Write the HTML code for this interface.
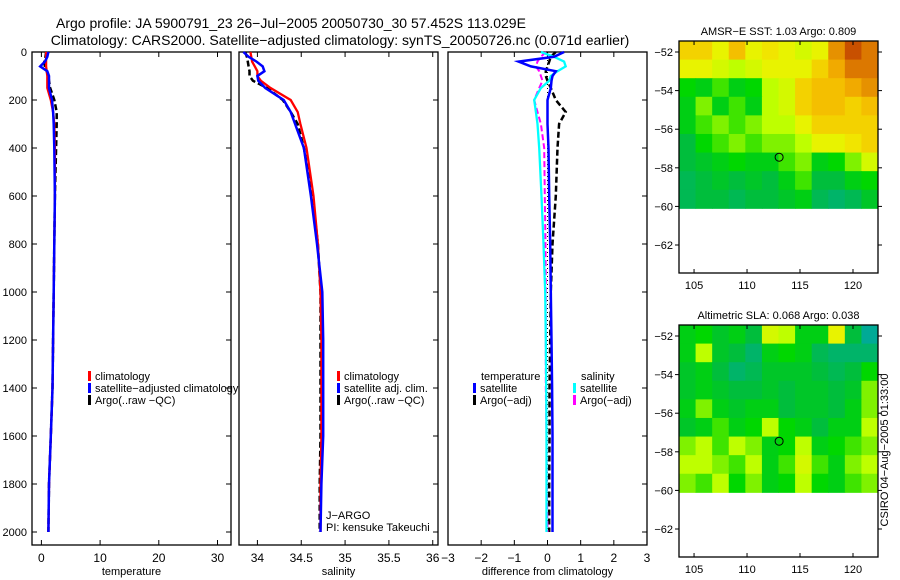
<!DOCTYPE html>
<html><head><meta charset="utf-8">
<style>
body{margin:0;background:#fff;}
svg{display:block;font-family:"Liberation Sans",sans-serif;}
</style></head>
<body>
<svg id="fig" width="900" height="580" viewBox="0 0 900 580" xmlns="http://www.w3.org/2000/svg">
<rect width="900" height="580" fill="#fff"/>
<text x="56" y="28" font-size="14" text-anchor="start">Argo profile: JA 5900791_23 26−Jul−2005 20050730_30 57.452S 113.029E</text>
<text x="340" y="45" font-size="14" text-anchor="middle">Climatology: CARS2000. Satellite−adjusted climatology: synTS_20050726.nc (0.071d earlier)</text>
<g id="plots"></g>
<text transform="translate(888,450) rotate(-90)" font-size="11" text-anchor="middle">CSIRO 04−Aug−2005 01:33:00</text>
</svg>
<script>
// ---- data ----
const depths = [0,20,40,60,80,100,120,150,200,250,300,400,600,800,1000,1200,1400,1600,1800,2000];
const tempClim = [0.8,0.8,0.8,0.8,0.9,1.0,1.0,1.0,1.6,2.0,2.2,2.3,2.3,2.2,2.1,2.0,1.9,1.6,1.3,1.2];
const tempSat  = [1.2,1.0,0.6,-0.2,1.0,1.3,1.3,1.3,1.8,2.0,2.1,2.2,2.3,2.2,2.1,2.0,1.9,1.6,1.3,1.2];
const tempArgo = [0.8,0.7,0.5,0.6,0.9,1.2,1.3,1.5,2.2,2.6,2.6,2.5,2.3,2.2,2.1,2.0,1.9,1.6,1.3,1.2];
const salClim = [33.92,33.93,33.94,33.97,34.0,34.0,34.04,34.15,34.38,34.46,34.49,34.56,34.64,34.69,34.72,34.73,34.73,34.73,34.72,34.72];
const salSat  = [33.84,33.9,33.99,34.06,34.08,34.0,34.01,34.09,34.3,34.38,34.43,34.53,34.61,34.68,34.74,34.75,34.75,34.75,34.73,34.72];
const salArgo = [33.86,33.88,33.89,33.9,33.91,33.91,33.95,34.11,34.29,34.38,34.46,34.53,34.63,34.69,34.72,34.72,34.72,34.72,34.71,34.71];
const dTempSat  = [0.5,0.2,-0.87,-0.5,0.25,0.15,0.12,0.1,0.0,0.0,0.0,0.03,0.05,0.08,0.1,0.12,0.14,0.15,0.15,0.15];
const dTempArgo = [0.25,0.1,0.05,0.0,-0.05,-0.05,0.0,0.1,0.25,0.55,0.35,0.3,0.25,0.15,0.1,0.08,0.06,0.06,0.05,0.05];
const dSalSat   = [-0.2,0.2,0.5,0.55,0.3,0.1,0.05,-0.2,-0.4,-0.35,-0.3,-0.25,-0.18,-0.12,-0.07,-0.05,-0.04,-0.03,-0.03,-0.03];
const dSalArgo  = [-0.05,-0.2,-0.3,-0.35,-0.25,-0.2,-0.15,-0.25,-0.4,-0.3,-0.2,-0.1,-0.08,-0.06,-0.05,-0.05,-0.05,-0.03,-0.02,0.0];
const depthTicks = [0,200,400,600,800,1000,1200,1400,1600,1800,2000];
const tempTicks = [0,10,20,30];
const salTicks = [34,34.5,35,35.5,36];
const diffTicks = [-3,-2,-1,0,1,2,3];
const lonTicks = [105,110,115,120];
const latTicks = [-52,-54,-56,-58,-60,-62];
const sstGrid = [
[.7,.7,.6,.75,.6,.65,.6,.55,.6,.85,.95,.9],
[.6,.6,.55,.5,.55,.6,.6,.6,.7,.8,.9,.9],
[.35,.3,.4,.3,.35,.5,.55,.7,.75,.75,.8,.85],
[.3,.45,.3,.4,.3,.5,.55,.7,.75,.75,.7,.75],
[.3,.4,.45,.4,.45,.5,.5,.6,.7,.7,.7,.7],
[.2,.35,.4,.45,.4,.45,.45,.5,.6,.6,.65,.7],
[.2,.25,.3,.35,.3,.3,.4,.45,.3,.35,.45,.55],
[.15,.2,.25,.2,.25,.2,.3,.4,.2,.2,.3,.35],
[.15,.2,.2,.15,.2,.2,.25,.3,.15,.1,.15,.25]];
const slaGrid = [
[.3,.35,.25,.3,.2,.55,.5,.3,.3,.6,.2,.0],
[.3,.5,.25,.2,.1,.3,.35,.3,.15,.1,.1,.1],
[.25,.3,.2,.1,.15,.25,.25,.25,.2,.15,.2,.35],
[.25,.3,.25,.2,.2,.25,.2,.25,.25,.2,.25,.45],
[.3,.45,.3,.25,.3,.3,.2,.25,.25,.2,.3,.45],
[.25,.3,.4,.3,.35,.5,.35,.3,.2,.3,.3,.5],
[.45,.5,.4,.5,.45,.3,.35,.5,.3,.35,.4,.45],
[.5,.5,.45,.4,.5,.3,.4,.55,.4,.3,.45,.5],
[.45,.4,.5,.35,.45,.3,.35,.5,.35,.3,.4,.45]];
const argoLon = 113.029, argoLat = -57.452;

const NS='http://www.w3.org/2000/svg';
const root=document.getElementById('plots');
function mk(tag,attrs,parent){const e=document.createElementNS(NS,tag);for(const k in attrs)e.setAttribute(k,attrs[k]);(parent||root).appendChild(e);return e;}
function txt(x,y,s,size,anchor,parent){const t=mk('text',{x:x,y:y,'font-size':size,'text-anchor':anchor||'start'},parent);t.textContent=s;return t;}

const Y0=52, YPX=0.24, BOT=545;
const yD=d=>Y0+d*YPX;
function panel(name,x0,x1,xmin,xmax,ticks,label,tickFmt){
  const g=mk('g',{});
  
  
  const fx=v=>x0+(v-xmin)/(xmax-xmin)*(x1-x0);
  mk('rect',{x:x0,y:Y0,width:x1-x0,height:BOT-Y0,fill:'none',stroke:'#000','stroke-width':1.3},g);
  ticks.forEach(t=>{const x=fx(t);
    mk('line',{x1:x,x2:x,y1:BOT,y2:BOT-5,stroke:'#000'},g);
    mk('line',{x1:x,x2:x,y1:Y0,y2:Y0+5,stroke:'#000'},g);
    const tl=txt(x,BOT+17,tickFmt?tickFmt(t):String(t),12,'middle',g);
    
    
  });
  depthTicks.forEach(d=>{mk('line',{x1:x1,x2:x1-5,y1:yD(d),y2:yD(d),stroke:'#000'},g);});
  const al=txt((x0+x1)/2,BOT+30,label,11,'middle',g);
  
  
  return {g,fx};
}
function line(p,vals,color,w,dash,name){
  const pts=vals.map((v,i)=>p.fx(v).toFixed(1)+','+yD(depths[i]).toFixed(1)).join(' ');
  const pl=mk('polyline',{points:pts,fill:'none',stroke:color,'stroke-width':w,'stroke-dasharray':dash||'none'},p.g);
  
  
}
function legend(g,x,y,color,label){
  mk('rect',{x:x,y:y-9,width:3,height:10,fill:color},g);
  const t=txt(x+7,y,label,11,'start',g);
  
  
}

// depth axis
const dAx=mk('g',{});


depthTicks.forEach(d=>{txt(27,yD(d)+4,String(d),11,'end',dAx);mk('line',{x1:32,x2:37,y1:yD(d),y2:yD(d),stroke:'#000'},dAx);});

// temperature panel
const pT=panel('temperature-panel',32,231,-1.6,32.3,tempTicks,'temperature');
line(pT,tempArgo,'#000',2.5,'6,3','argo-temperature-line');
line(pT,tempClim,'#f00',2.3,null,'climatology-temperature-line');
line(pT,tempSat,'#00f',2.5,null,'satellite-temperature-line');
legend(pT.g,88,380,'#f00','climatology');
legend(pT.g,88,392,'#00f','satellite−adjusted climatology');
legend(pT.g,88,404,'#000','Argo(..raw −QC)');

// salinity panel
const pS=panel('salinity-panel',239,438,33.79,36.06,salTicks,'salinity');
line(pS,salArgo,'#000',2.5,'6,3','argo-salinity-line');
line(pS,salClim,'#f00',2.3,null,'climatology-salinity-line');
line(pS,salSat,'#00f',2.5,null,'satellite-salinity-line');
legend(pS.g,337,380,'#f00','climatology');
legend(pS.g,337,392,'#00f','satellite adj. clim.');
legend(pS.g,337,404,'#000','Argo(..raw −QC)');
txt(326,519,'J−ARGO',11,'start',pS.g);
txt(326,531,'PI: kensuke Takeuchi',11,'start',pS.g);

// difference panel
const pD=panel('difference-panel',448,647,-3,3,diffTicks,'difference from climatology',t=>t<0?'−'+(-t):String(t));
mk('line',{x1:pD.fx(0),x2:pD.fx(0),y1:Y0,y2:yD(2000),stroke:'#000','stroke-dasharray':'1,3'},pD.g);
line(pD,dTempArgo,'#000',2.5,'6,3','argo-temp-diff-line');
line(pD,dSalArgo,'#f0f',2,'6,3','argo-sal-diff-line');
line(pD,dSalSat,'#0ff',2.3,null,'satellite-sal-diff-line');
line(pD,dTempSat,'#00f',2.5,null,'satellite-temp-diff-line');
txt(481,380,'temperature',11,'start',pD.g);
legend(pD.g,473,392,'#00f','satellite');
legend(pD.g,473,404,'#000','Argo(−adj)');
txt(581,380,'salinity',11,'start',pD.g);
legend(pD.g,573,392,'#0ff','satellite');
legend(pD.g,573,404,'#f0f','Argo(−adj)');

// maps
function cmap(v){
  const st=[[0,[0,170,150]],[0.2,[0,190,60]],[0.35,[0,215,0]],[0.5,[190,255,0]],[0.62,[240,240,0]],[0.78,[245,180,0]],[0.9,[220,120,0]],[1,[180,40,0]]];
  for(let i=1;i<st.length;i++){if(v<=st[i][0]){const a=st[i-1],b=st[i],f=(v-a[0])/(b[0]-a[0]);
    return 'rgb('+a[1].map((c,j)=>Math.round(c+(b[1][j]-c)*f)).join(',')+')';}}
  return 'rgb(180,40,0)';
}
function map(name,top,title,grid){
  const g=mk('g',{});
  
  
  const L=679,R=878,H=232,lonMin=103.58,lonMax=122.36,latTop=-51.43,latBot=-63.45;
  const fx=v=>L+(v-lonMin)/(lonMax-lonMin)*(R-L);
  const fy=v=>top+(latTop-v)/(latTop-latBot)*H;
  const rows=grid.length, cols=grid[0].length, dLat=(latTop-(-60.1))/rows, dLon=(lonMax-lonMin)/cols;
  grid.forEach((row,r)=>row.forEach((v,c)=>{
    const x=fx(lonMin+c*dLon), y=fy(latTop-r*dLat);
    const cell=mk('rect',{x:x,y:y,width:fx(lonMin+(c+1)*dLon)-x+0.5,height:fy(latTop-(r+1)*dLat)-y+0.5,fill:cmap(v)},g);
    
    
  }));
  mk('rect',{x:L,y:top,width:R-L,height:H,fill:'none',stroke:'#000','stroke-width':1.3},g);
  lonTicks.forEach(t=>{const x=fx(t);mk('line',{x1:x,x2:x,y1:top,y2:top+4,stroke:'#000'},g);mk('line',{x1:x,x2:x,y1:top+H,y2:top+H-4,stroke:'#000'},g);txt(x,top+H+16,String(t),11,'middle',g);});
  latTicks.forEach(t=>{const y=fy(t);mk('line',{x1:L,x2:L-4,y1:y,y2:y,stroke:'#000'},g);mk('line',{x1:R,x2:R+4,y1:y,y2:y,stroke:'#000'},g);txt(L-6,y+4,'−'+(-t),11,'end',g);});
  const tt=txt((L+R)/2,top-6,title,11,'middle',g);
  
  
  const m=mk('circle',{cx:fx(argoLon),cy:fy(argoLat),r:4,fill:'none',stroke:'#000'},g);
  
  
}
map('sst-map',41,'AMSR−E SST: 1.03 Argo: 0.809',sstGrid);
map('sla-map',325,'Altimetric SLA: 0.068 Argo: 0.038',slaGrid);
</script>
</body></html>
